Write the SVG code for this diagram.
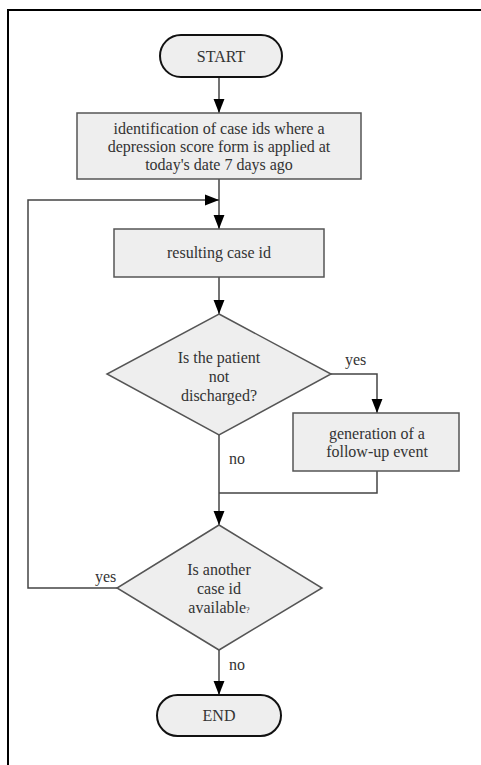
<svg xmlns="http://www.w3.org/2000/svg" width="481" height="765" viewBox="0 0 481 765">
<defs>
<marker id="ah" markerWidth="14" markerHeight="18" refX="18" refY="7" orient="auto" markerUnits="userSpaceOnUse" viewBox="0 0 18 14">
<path d="M0,0 L18,7 L0,14 Z" fill="#000"/>
</marker>
<style>
text{font-family:'Liberation Serif','Times New Roman','DejaVu Serif',serif;font-size:16px;fill:#333}
.t{text-anchor:middle}
.term{fill:#eeeeee;stroke:#111;stroke-width:2}
.box{fill:#eeeeee;stroke:#555;stroke-width:1.5}
.c{fill:none;stroke:#444;stroke-width:1.5}
</style>
</defs>
<rect width="481" height="765" fill="#fff"/>
<path d="M8,765 V10 H481" fill="none" stroke="#000" stroke-width="2"/>
<g id="connectors">
<path class="c" d="M219,77 V113" marker-end="url(#ah)"/>
<path class="c" d="M219,179 V229" marker-end="url(#ah)"/>
<path class="c" d="M219,277 V314" marker-end="url(#ah)"/>
<path class="c" d="M331,374 H377 V413" marker-end="url(#ah)"/>
<path class="c" d="M377,471 V493 H219"/>
<path class="c" d="M219,435 V525" marker-end="url(#ah)"/>
<path class="c" d="M117,588 H28 V200 H219" marker-end="url(#ah)"/>
<path class="c" d="M219,650 V695" marker-end="url(#ah)"/>
<text font-family="Liberation Serif, serif" x="345" y="365">yes</text>
<text font-family="Liberation Serif, serif" x="229" y="464">no</text>
<text font-family="Liberation Serif, serif" x="95" y="582">yes</text>
<text font-family="Liberation Serif, serif" x="229" y="670">no</text>
</g>
<g id="start">
<rect class="term" x="160" y="35" width="122" height="42" rx="21"/>
<text class="t" font-family="Liberation Serif, serif" x="221" y="62">START</text>
</g>
<g id="identify">
<rect class="box" x="77" y="113" width="284" height="66"/>
<text class="t" font-family="Liberation Serif, serif" x="219" y="134">identification of case ids where a</text>
<text class="t" font-family="Liberation Serif, serif" x="219" y="152">depression score form is applied at</text>
<text class="t" font-family="Liberation Serif, serif" x="219" y="170">today's date 7 days ago</text>
</g>
<g id="resulting">
<rect class="box" x="114" y="229" width="210" height="48"/>
<text class="t" font-family="Liberation Serif, serif" x="219" y="258">resulting case id</text>
</g>
<g id="discharged">
<polygon class="box" points="219,314 331,374 219,435 107,374"/>
<text class="t" font-family="Liberation Serif, serif" x="219" y="363">Is the patient</text>
<text class="t" font-family="Liberation Serif, serif" x="219" y="382">not</text>
<text class="t" font-family="Liberation Serif, serif" x="219" y="401">discharged?</text>
</g>
<g id="followup">
<rect class="box" x="293" y="413" width="166" height="58"/>
<text class="t" font-family="Liberation Serif, serif" x="377" y="439">generation of a</text>
<text class="t" font-family="Liberation Serif, serif" x="377" y="457">follow-up event</text>
</g>
<g id="another">
<polygon class="box" points="219,525 322,588 219,650 117,588"/>
<text class="t" font-family="Liberation Serif, serif" x="219" y="575">Is another</text>
<text class="t" font-family="Liberation Serif, serif" x="219" y="594">case id</text>
<text class="t" font-family="Liberation Serif, serif" x="219" y="613">available<tspan font-size="8">?</tspan></text>
</g>
<g id="end">
<rect class="term" x="157" y="695" width="124" height="41" rx="20.5"/>
<text class="t" font-family="Liberation Serif, serif" x="219" y="721">END</text>
</g>
</svg>
